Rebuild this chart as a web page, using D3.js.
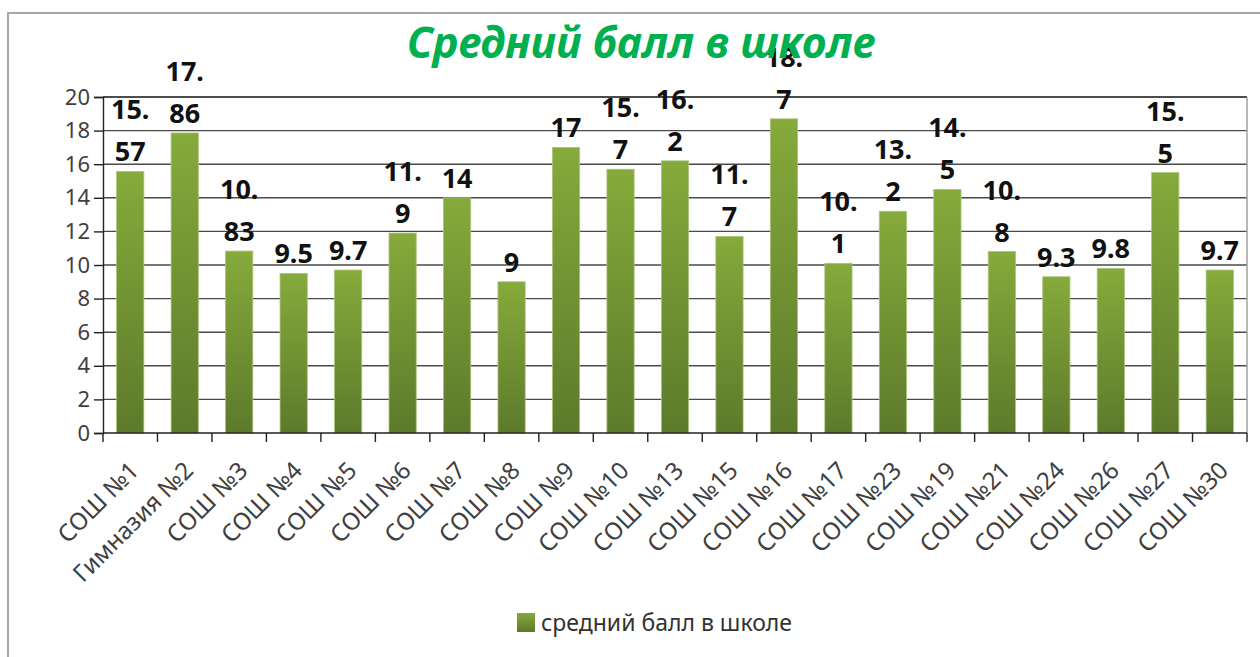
<!DOCTYPE html>
<html>
<head>
  <meta charset="utf-8">
  <title>Средний балл в школе</title>
  <style>
    body { margin: 0; background: #fff; }
    svg { display: block; font-family: "Noto Sans", "Open Sans", sans-serif; }
  </style>
  <script src="https://cdnjs.cloudflare.com/ajax/libs/d3/7.8.5/d3.min.js"></script>
</head>
<body>
<div id="chart"></div>
<script>

var schools = ["СОШ №1", "Гимназия №2", "СОШ №3", "СОШ №4", "СОШ №5", "СОШ №6", "СОШ №7",
  "СОШ №8", "СОШ №9", "СОШ №10", "СОШ №13", "СОШ №15", "СОШ №16", "СОШ №17",
  "СОШ №23", "СОШ №19", "СОШ №21", "СОШ №24", "СОШ №26", "СОШ №27", "СОШ №30"];
var scores = [15.57, 17.86, 10.83, 9.5, 9.7, 11.9, 14, 9, 17, 15.7, 16.2, 11.7, 18.7, 10.1,
  13.2, 14.5, 10.8, 9.3, 9.8, 15.5, 9.7];
var yTicks = [0, 2, 4, 6, 8, 10, 12, 14, 16, 18, 20];
var seriesName = "средний балл в школе";
var title = "Средний балл в школе";

var width = 1260, height = 657;
var plotL = 103, plotR = 1247, plotT = 97, plotB = 433;

var svg = d3.select("#chart").append("svg")
  .attr("width", width)
  .attr("height", height);

// bar gradient (per bar, light on top)
var defs = svg.append("defs");
var grad = defs.append("linearGradient")
  .attr("id", "barGrad")
  .attr("x1", 0).attr("y1", 0).attr("x2", 0).attr("y2", 1);
grad.append("stop").attr("offset", "0%").attr("stop-color", "#86aa3b");
grad.append("stop").attr("offset", "100%").attr("stop-color", "#5d7a2b");

// outer chart frame
svg.append("rect")
  .attr("x", 8).attr("y", 13)
  .attr("width", 1300).attr("height", 700)
  .attr("fill", "none")
  .attr("stroke", "#a6a6a6")
  .attr("stroke-width", 2);

var x = d3.scaleBand()
  .domain(schools)
  .range([plotL, plotR])
  .paddingInner(0.5)
  .paddingOuter(0.25);

var y = d3.scaleLinear()
  .domain([0, 20])
  .range([plotB, plotT]);

// gridlines
svg.append("g")
  .selectAll("line")
  .data(yTicks.slice(1))
  .join("line")
  .attr("x1", plotL).attr("x2", plotR)
  .attr("y1", function(d) { return y(d); })
  .attr("y2", function(d) { return y(d); })
  .attr("stroke", function(d) { return d === 20 ? "#111" : "#4a4a4a"; })
  .attr("stroke-width", 1.4);

// right border of plot
svg.append("line")
  .attr("x1", plotR).attr("x2", plotR)
  .attr("y1", plotT).attr("y2", plotB)
  .attr("stroke", "#a0a0a0")
  .attr("stroke-width", 1.5);

// y axis
var yAxis = svg.append("g")
  .attr("transform", "translate(" + plotL + ",0)")
  .call(d3.axisLeft(y).tickValues(yTicks).tickSize(9).tickPadding(4));
yAxis.select(".domain").attr("stroke", "#222").attr("stroke-width", 1.4);
yAxis.selectAll(".tick line").attr("stroke", "#222").attr("stroke-width", 1.4);
yAxis.selectAll(".tick text")
  .attr("fill", "#404040")
  .style("font-size", "22px")
  .style("font-family", "'Noto Sans', sans-serif");

// bars
svg.append("g")
  .selectAll("rect")
  .data(scores)
  .join("rect")
  .attr("x", function(d, i) { return x(schools[i]); })
  .attr("width", x.bandwidth())
  .attr("y", function(d) { return y(d); })
  .attr("height", function(d) { return y(0) - y(d); })
  .attr("fill", "url(#barGrad)")
  .attr("stroke", "#a9c47a")
  .attr("stroke-width", 0.8);

// x axis line and ticks at category boundaries
var boundaries = d3.range(schools.length + 1).map(function(i) { return plotL + i * (plotR - plotL) / schools.length; });
svg.append("line")
  .attr("x1", plotL).attr("x2", plotR)
  .attr("y1", plotB).attr("y2", plotB)
  .attr("stroke", "#222").attr("stroke-width", 1.4);
svg.append("g")
  .selectAll("line")
  .data(boundaries)
  .join("line")
  .attr("x1", function(d) { return d; }).attr("x2", function(d) { return d; })
  .attr("y1", plotB).attr("y2", plotB + 9)
  .attr("stroke", "#222").attr("stroke-width", 1.4);

// category labels rotated
svg.append("g")
  .selectAll("text")
  .data(schools)
  .join("text")
  .attr("transform", function(d) {
    var cx = x(d) + x.bandwidth() / 2 + 4;
    return "translate(" + cx + ",466) rotate(-45)";
  })
  .attr("text-anchor", "end")
  .attr("dy", "0.35em")
  .attr("fill", "#404040")
  .style("font-size", "24px")
  .text(function(d) { return d; });

// data labels, wrapped after the decimal point like the original
function labelLines(v) {
  var s = String(v);
  if (s.length > 3 && s.indexOf(".") >= 0) {
    var p = s.indexOf(".") + 1;
    return [s.slice(0, p), s.slice(p)];
  }
  return [s];
}

var labels = svg.append("g");
scores.forEach(function(v, i) {
  var lines = labelLines(v);
  var cx = x(schools[i]) + x.bandwidth() / 2;
  lines.forEach(function(t, j) {
    labels.append("text")
      .attr("x", cx)
      .attr("y", y(v) - 10 - (lines.length - 1 - j) * 42)
      .attr("text-anchor", "middle")
      .attr("fill", "#111")
      .style("font-size", "27px")
      .style("font-weight", "bold")
      .text(t);
  });
});

// title
svg.append("text")
  .attr("x", 641)
  .attr("y", 58)
  .attr("text-anchor", "middle")
  .attr("fill", "#00b050")
  .style("font-size", "43px")
  .style("font-weight", "bold")
  .style("font-style", "italic")
  .text(title);

// legend
var legend = svg.append("g").attr("transform", "translate(517,613)");
legend.append("rect")
  .attr("width", 18).attr("height", 19)
  .attr("fill", "url(#barGrad)");
legend.append("text")
  .attr("x", 24)
  .attr("y", 18)
  .attr("fill", "#333")
  .style("font-size", "23px")
  .text(seriesName);

</script>
</body>
</html>
